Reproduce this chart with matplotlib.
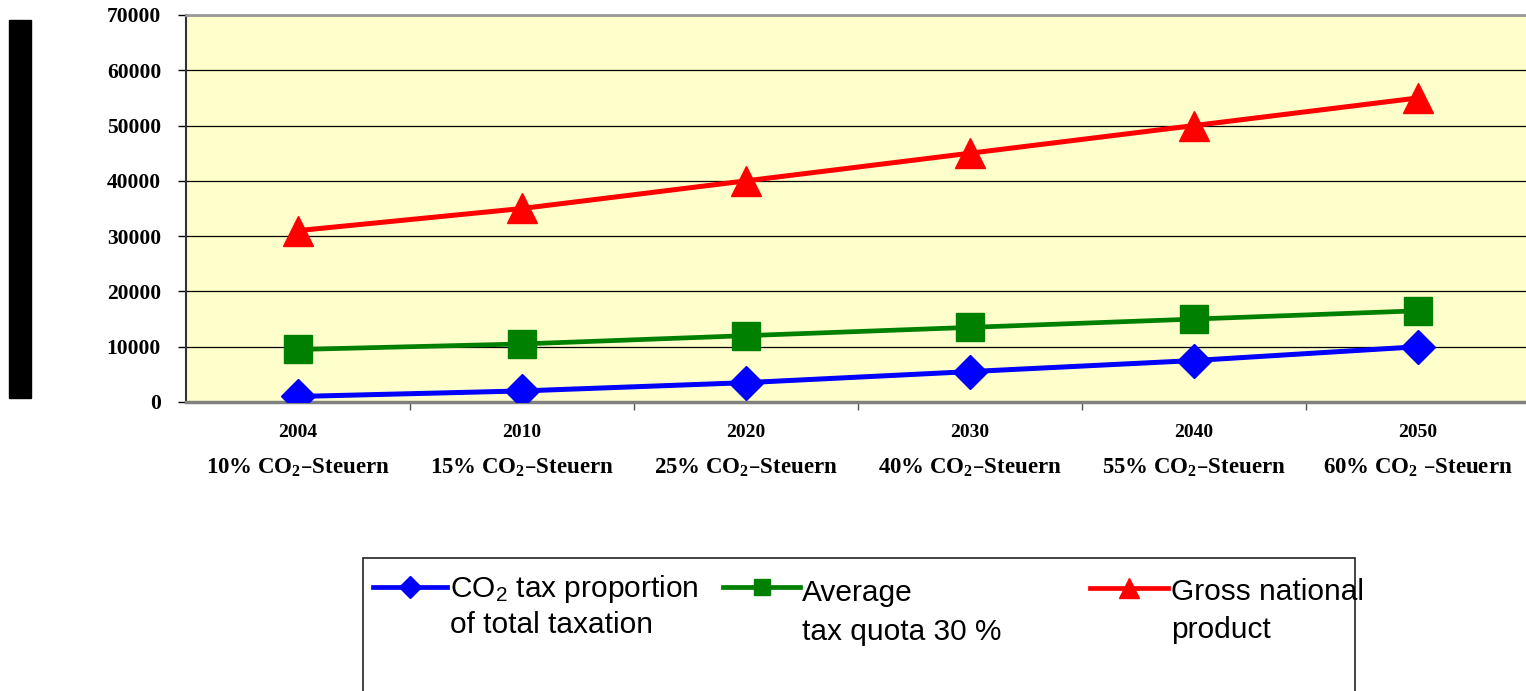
import matplotlib
matplotlib.use("Agg")
import matplotlib.pyplot as plt
from matplotlib.lines import Line2D
from matplotlib.patches import Rectangle

plt.rcParams['mathtext.default'] = 'regular'

# data
years = ['2004', '2010', '2020', '2030', '2040', '2050']
tax_share = ['10%', '15%', '25%', '40%', '55%', '60%']
co2_tax = [1000, 2000, 3500, 5500, 7500, 10000]
avg_tax = [9500, 10500, 12000, 13500, 15000, 16500]
gnp = [31000, 35000, 40000, 45000, 50000, 55000]
yticks = [0, 10000, 20000, 30000, 40000, 50000, 60000, 70000]

W, H = 1526, 691
fig = plt.figure(figsize=(W / 100, H / 100), dpi=100)

def fx(px):
    return px / W

def fy(py):
    return 1 - py / H

ax = fig.add_axes([fx(186), fy(402), fx(1530) - fx(186), fy(15) - fy(402)])
ax.set_facecolor('#FFFFCC')

x = list(range(len(years)))
ax.plot(x, co2_tax, color='#0000FF', lw=3.6, marker='D', ms=17, zorder=3)
ax.plot(x, avg_tax, color='#008000', lw=3.4, marker='s', ms=20, zorder=3)
ax.plot(x, gnp, color='#FF0000', lw=3.6, marker='^', ms=22, zorder=3)

ax.set_xlim(-0.5, 5.5)
ax.set_ylim(0, 70000)
ax.set_yticks(yticks)
ax.set_yticklabels([str(v) for v in yticks], family='Liberation Serif',
                   fontweight='bold', fontsize=15.5)
ax.yaxis.grid(True, color='black', lw=0.9)
ax.set_axisbelow(True)
ax.tick_params(axis='y', length=6, width=1, pad=12, direction='out')

ax.set_xticks([i + 0.5 for i in range(len(years))])
ax.set_xticklabels([])
ax.tick_params(axis='x', length=6, width=1, direction='out', color='#555555')

for i, (yr, pct) in enumerate(zip(years, tax_share)):
    ax.text(i, -0.08, yr, transform=ax.get_xaxis_transform(), ha='center',
            va='center', family='Liberation Serif', fontweight='bold', fontsize=14)
    sep = ' –' if i == len(years) - 1 else '–'
    ax.text(i, -0.17, pct + ' CO$_2$' + sep + 'Steuern', transform=ax.get_xaxis_transform(),
            ha='center', va='center', family='Liberation Serif', fontweight='bold',
            fontsize=16.5)

ax.spines['left'].set_color('#333333')
ax.spines['left'].set_linewidth(1.5)
ax.spines['bottom'].set_color('#808080')
ax.spines['bottom'].set_linewidth(2.5)
ax.spines['top'].set_color('#999999')
ax.spines['top'].set_linewidth(2)
ax.spines['right'].set_visible(False)

# black bar on the left
fig.patches.append(Rectangle((fx(9), fy(398)), fx(31) - fx(9), fy(20) - fy(398),
                             transform=fig.transFigure, color='black'))

# legend box
fig.patches.append(Rectangle((fx(363), fy(700)), fx(1355) - fx(363), fy(558) - fy(700),
                             transform=fig.transFigure, facecolor='white',
                             edgecolor='#222222', lw=1.2))

def legend_entry(x0, x1, y, color, marker, ms, lines, tx, ty):
    xm = (x0 + x1) / 2
    fig.lines.append(Line2D([fx(x0), fx(xm), fx(x1)], [fy(y)] * 3, transform=fig.transFigure,
                            color=color, lw=3.4, marker=marker, ms=ms, markevery=[1]))
    for text, yy in zip(lines, ty):
        fig.text(fx(tx), fy(yy), text, ha='left', va='center',
                 family='Liberation Sans', fontsize=21.5)

legend_entry(373, 447, 587, '#0000FF', 'D', 11, ['CO$_2$ tax proportion', 'of total taxation'],
             450, [589, 625])
legend_entry(723, 800, 587, '#008000', 's', 11, ['Average', 'tax quota 30 %'],
             802, [593, 632])
legend_entry(1090, 1168, 588, '#FF0000', '^', 14, ['Gross national', 'product'],
             1171, [592, 630])

fig.savefig('out.png', dpi=100)
